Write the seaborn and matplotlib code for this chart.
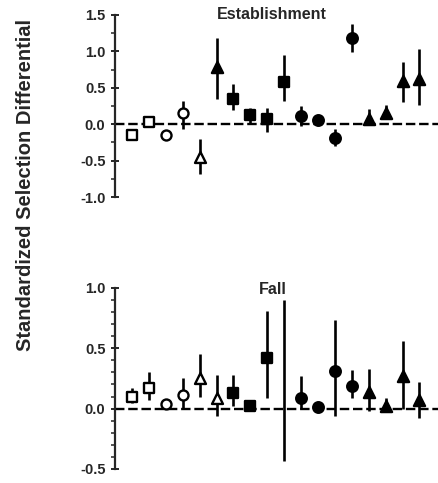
import matplotlib
matplotlib.use("Agg")
import matplotlib.pyplot as plt
import seaborn as sns
import pandas as pd
from matplotlib.ticker import MultipleLocator

# ---- data ----
positions = list(range(1, 19))
marker_types = ["open_s", "open_s", "open_o", "open_o", "open_^", "^",
                "s", "s", "s", "s", "o", "o", "o", "o", "^", "^", "^", "^"]
fall_marker_types = ["open_s", "open_s", "open_o", "open_o", "open_^", "open_^",
                     "s", "s", "s", "none", "o", "o", "o", "o", "^", "^", "^", "^"]

est_value = [-0.15, 0.03, -0.15, 0.15, -0.45, 0.79, 0.34, 0.12, 0.07, 0.58,
             0.11, 0.06, -0.19, 1.19, 0.07, 0.16, 0.60, 0.62]
est_low = [-0.19, -0.04, -0.20, -0.06, -0.69, 0.34, 0.19, 0.02, -0.10, 0.32,
           -0.02, 0.03, -0.30, 0.99, -0.01, 0.10, 0.30, 0.27]
est_high = [-0.11, 0.10, -0.10, 0.32, -0.20, 1.18, 0.55, 0.22, 0.22, 0.95,
            0.25, 0.09, -0.07, 1.37, 0.21, 0.26, 0.86, 1.03]

fall_value = [0.10, 0.17, 0.04, 0.11, 0.25, 0.09, 0.13, 0.02, 0.42, 0.23,
              0.09, 0.01, 0.31, 0.19, 0.14, 0.02, 0.27, 0.07]
fall_low = [0.05, 0.07, 0.02, 0.00, 0.10, -0.06, 0.02, 0.00, 0.09, -0.43,
            0.00, 0.00, -0.06, 0.09, -0.02, -0.02, 0.00, -0.08]
fall_high = [0.17, 0.30, 0.06, 0.25, 0.45, 0.28, 0.28, 0.04, 0.81, 0.90,
             0.27, 0.02, 0.73, 0.32, 0.33, 0.09, 0.56, 0.22]

y_label = "Standardized Selection Differential"
panel_titles = ["Establishment", "Fall"]

# ---- style ----
sns.set_style("ticks")
plt.rcParams["font.family"] = ["Liberation Sans", "DejaVu Sans"]
plt.rcParams["font.weight"] = "bold"
plt.rcParams["axes.unicode_minus"] = False

marker_styles = {
    "open_s": dict(marker="s", facecolor="white", s=46),
    "open_o": dict(marker="o", facecolor="white", s=52),
    "open_^": dict(marker="^", facecolor="white", s=62),
    "s": dict(marker="s", facecolor="black", s=50),
    "o": dict(marker="o", facecolor="black", s=58),
    "^": dict(marker="^", facecolor="black", s=64),
}

fig = plt.figure(figsize=(4.38, 4.83), dpi=100)
ax1 = fig.add_axes([0.263, 0.592, 0.737, 0.377])
ax2 = fig.add_axes([0.263, 0.029, 0.737, 0.375])


def draw_panel(ax, values, lows, highs, mtypes, ylim, major, minor):
    df = pd.DataFrame({"x": positions, "y": values, "lo": lows, "hi": highs, "m": mtypes})
    ax.axhline(0, color="black", lw=1.7, ls=(0, (4, 1.6)), zorder=1)
    ax.vlines(df["x"], df["lo"], df["hi"], color="black", lw=1.9, zorder=2)
    for m, sub in df.groupby("m"):
        if m == "none":
            continue
        st = marker_styles[m]
        sns.scatterplot(data=sub, x="x", y="y", ax=ax, marker=st["marker"],
                        s=st["s"], facecolor=st["facecolor"], edgecolor="black",
                        linewidth=1.7, zorder=3, legend=False)
    ax.set_xlim(0, 19.1)
    ax.set_ylim(*ylim)
    ax.set_xlabel("")
    ax.set_ylabel("")
    ax.set_xticks([])
    for sp in ["top", "right", "bottom"]:
        ax.spines[sp].set_visible(False)
    ax.spines["left"].set_linewidth(1.6)
    ax.spines["left"].set_bounds(*ylim)
    ax.yaxis.set_major_locator(MultipleLocator(major))
    ax.yaxis.set_minor_locator(MultipleLocator(minor))
    ax.yaxis.set_major_formatter(matplotlib.ticker.FormatStrFormatter("%.1f"))
    ax.tick_params(axis="y", which="major", direction="inout", length=6, width=1.4,
                   labelsize=10.5, pad=4)
    ax.tick_params(axis="y", which="minor", direction="out", length=3, width=1.1)
    for lab in ax.get_yticklabels():
        lab.set_fontweight("bold")
    ax.patch.set_alpha(0)


draw_panel(ax1, est_value, est_low, est_high, marker_types, (-1.0, 1.5), 0.5, 0.25)
draw_panel(ax2, fall_value, fall_low, fall_high, fall_marker_types, (-0.5, 1.0), 0.5, 0.1)

fig.text(0.620, 0.969, panel_titles[0], ha="center", va="center",
         fontsize=11.5, fontweight="bold")
fig.text(0.623, 0.400, panel_titles[1], ha="center", va="center",
         fontsize=11.5, fontweight="bold")
fig.text(0.058, 0.617, y_label, rotation=90, ha="center", va="center",
         fontsize=14.5, fontweight="bold")

fig.savefig("out.png", dpi=100)
